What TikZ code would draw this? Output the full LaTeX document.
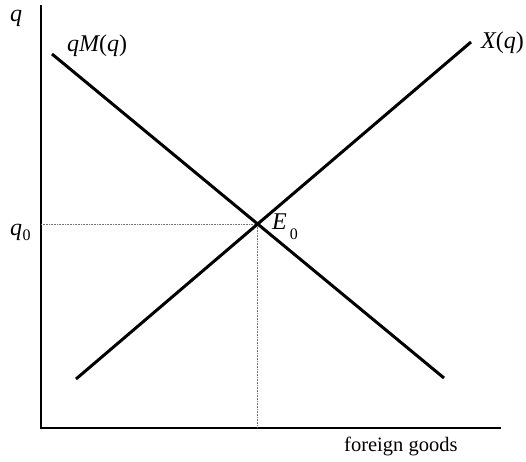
\documentclass[tikz,border=0pt]{standalone}
\usepackage{fontspec}
\setmainfont{Liberation Serif}
\usetikzlibrary{calc}
\tikzset{
    % Axis and curve styles
    axisline/.style={
        draw=black,
        line width=2.8pt
    },
    curveline/.style={
        draw=black,
        line width=3pt
    },
    guideline/.style={
        draw=black!55,
        line width=0.6pt,
        densely dotted
    },
    % Label styles
    mathlabel/.style={
        inner sep=0pt,
        anchor=base west,
        font=\fontsize{24}{28}\selectfont\itshape
    },
    textlabel/.style={
        inner sep=0pt,
        anchor=base west,
        font=\fontsize{20.5}{24}\selectfont
    }
}
% subscript: gap, drop, text
\newcommand{\lowsub}[3]{\hspace{#1}\raisebox{-#2}{\upshape\fontsize{16}{18}\selectfont #3}}

\begin{document}
\begin{tikzpicture}[x=1pt,y=-1pt]
                \useasboundingbox (0,0) rectangle (526,461);

                % Axes
                \coordinate (origin) at (41,428);
                \coordinate (ytop) at (41,5);
                \coordinate (xend) at (501,428);
                \draw[axisline] (ytop) -- (origin) -- (xend);

                % Curves
                \coordinate (mstart) at (52,54);
                \coordinate (mend) at (444,378);
                \coordinate (xstart) at (76,379);
                \coordinate (xtop) at (471,42);
                \coordinate (eq) at (intersection of mstart--mend and xstart--xtop);
                \coordinate (eqy) at (origin |- eq);
                \coordinate (eqx) at (eq |- origin);

                % Guides to the axes
                \draw[guideline] (eqy) -- (eq) -- (eqx);

                \draw[curveline] (mstart) -- (mend);
                \draw[curveline] (xstart) -- (xtop);

                % Labels
                \node[mathlabel] (qaxis) at (10,21) {q};
                \node[mathlabel] (mlabel) at (67,51) {qM\upshape(\itshape q\upshape)};
                \node[mathlabel] (xlabel) at (481,48) {X\upshape(\itshape q\upshape)};
                \node[mathlabel] (qzero) at (10,235) {q\lowsub{0.5pt}{5pt}{0}};
                \node[mathlabel] (ezero) at (272,229) {E\lowsub{3pt}{10pt}{0}};
                \node[textlabel] (goods) at (344,451) {foreign goods};
            \end{tikzpicture}
\end{document}
